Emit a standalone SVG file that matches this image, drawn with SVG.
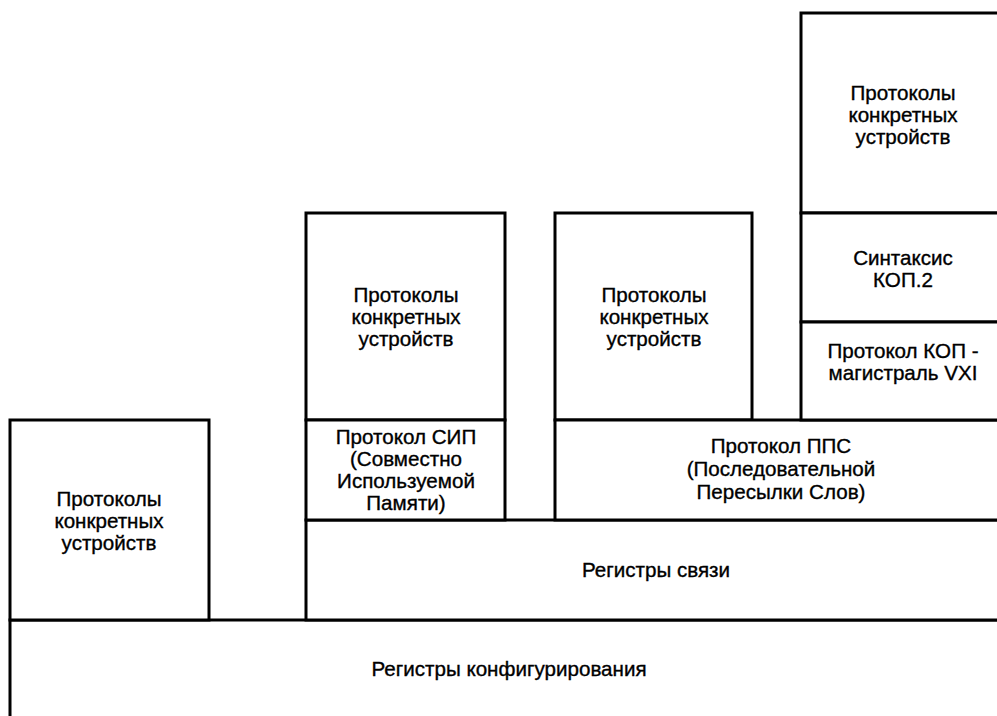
<svg xmlns="http://www.w3.org/2000/svg" width="997" height="716" viewBox="0 0 997 716">
<style>
.b{fill:#fff;stroke:#000;stroke-width:3}
text{font-family:"Liberation Sans",Arial,sans-serif;font-size:20.6px;fill:#000;stroke:#000;stroke-width:0.35;text-anchor:middle}
</style>
<rect width="997" height="716" fill="#fff"/>
<g id="cfg"><rect class="b" x="10" y="620" width="1000" height="110"/><text x="509" y="676">Регистры конфигурирования</text></g>
<g id="comm"><rect class="b" x="306" y="520" width="704" height="100"/><text x="656" y="577">Регистры связи</text></g>
<g id="dev1"><rect class="b" x="10" y="420" width="199" height="200"/><text x="109" y="506">Протоколы</text><text x="109" y="528">конкретных</text><text x="109" y="550">устройств</text></g>
<g id="dev2"><rect class="b" x="306" y="213" width="199" height="207"/><text x="406" y="302">Протоколы</text><text x="406" y="324">конкретных</text><text x="406" y="346">устройств</text></g>
<g id="sip"><rect class="b" x="306" y="420" width="199" height="100"/><text x="406" y="444">Протокол СИП</text><text x="406" y="466">(Совместно</text><text x="406" y="488">Используемой</text><text x="406" y="510">Памяти)</text></g>
<g id="dev3"><rect class="b" x="555" y="213" width="197" height="207"/><text x="654" y="302">Протоколы</text><text x="654" y="324">конкретных</text><text x="654" y="346">устройств</text></g>
<g id="pps"><rect class="b" x="555" y="420" width="455" height="100"/><text x="781" y="453">Протокол ППС</text><text x="781" y="476">(Последовательной</text><text x="781" y="499">Пересылки Слов)</text></g>
<g id="dev4"><rect class="b" x="801" y="13" width="209" height="200"/><text x="903" y="100">Протоколы</text><text x="903" y="122">конкретных</text><text x="903" y="144">устройств</text></g>
<g id="syn"><rect class="b" x="801" y="213" width="209" height="109"/><text x="903" y="265">Синтаксис</text><text x="903" y="287">КОП.2</text></g>
<g id="vxi"><rect class="b" x="801" y="322" width="209" height="98"/><text x="903" y="358">Протокол КОП -</text><text x="903" y="380">магистраль VXI</text></g>
<g id="connectors"/>
</svg>
